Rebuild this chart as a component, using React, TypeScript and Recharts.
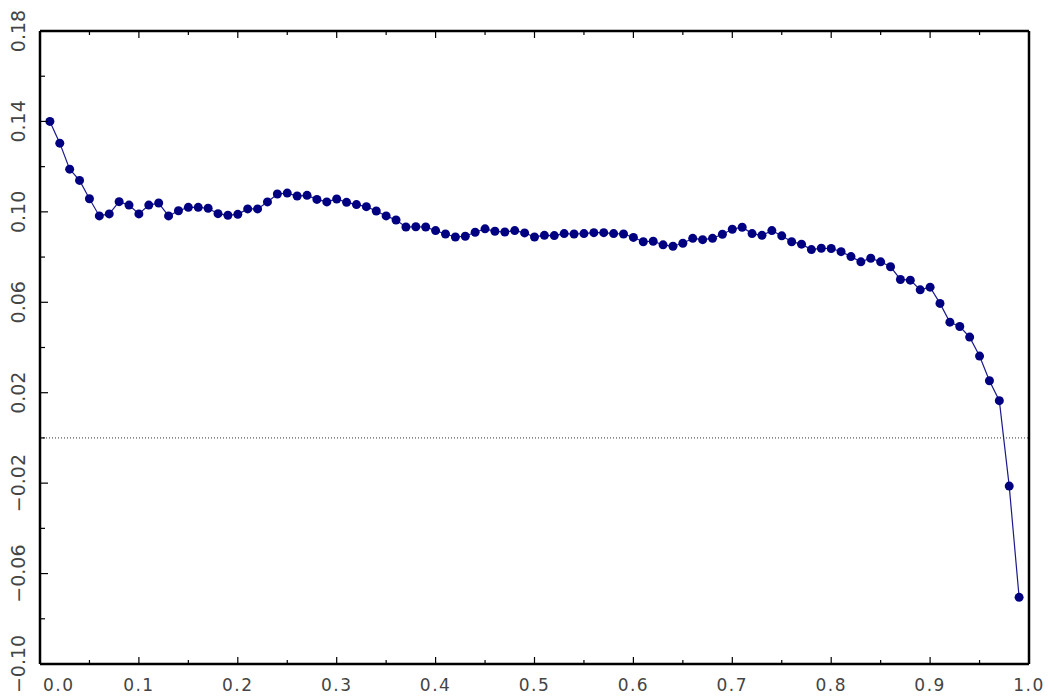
import { LineChart, Line, XAxis, YAxis, ReferenceLine } from 'recharts';

// x positions of the samples
const xs = [
  0.01, 0.02, 0.03, 0.04, 0.05, 0.06, 0.07, 0.08, 0.09, 0.1,
  0.11, 0.12, 0.13, 0.14, 0.15, 0.16, 0.17, 0.18, 0.19, 0.2,
  0.21, 0.22, 0.23, 0.24, 0.25, 0.26, 0.27, 0.28, 0.29, 0.3,
  0.31, 0.32, 0.33, 0.34, 0.35, 0.36, 0.37, 0.38, 0.39, 0.4,
  0.41, 0.42, 0.43, 0.44, 0.45, 0.46, 0.47, 0.48, 0.49, 0.5,
  0.51, 0.52, 0.53, 0.54, 0.55, 0.56, 0.57, 0.58, 0.59, 0.6,
  0.61, 0.62, 0.63, 0.64, 0.65, 0.66, 0.67, 0.68, 0.69, 0.7,
  0.71, 0.72, 0.73, 0.74, 0.75, 0.76, 0.77, 0.78, 0.79, 0.8,
  0.81, 0.82, 0.83, 0.84, 0.85, 0.86, 0.87, 0.88, 0.89, 0.9,
  0.91, 0.92, 0.93, 0.94, 0.95, 0.96, 0.97, 0.98, 0.99,
];

// values
const ys = [
  0.140, 0.1304, 0.1189, 0.1139, 0.1058, 0.0982, 0.0991, 0.1045, 0.1030, 0.0991,
  0.1030, 0.1039, 0.0982, 0.1005, 0.1020, 0.1020, 0.1016, 0.0992, 0.0985, 0.0989,
  0.1013, 0.1013, 0.1044, 0.1079, 0.1083, 0.1070, 0.1073, 0.1055, 0.1044, 0.1057,
  0.1042, 0.1032, 0.1023, 0.1004, 0.0982, 0.0964, 0.0933, 0.0934, 0.0933, 0.0917,
  0.0902, 0.0889, 0.0892, 0.0910, 0.0925, 0.0914, 0.0911, 0.0917, 0.0907, 0.0889,
  0.0896, 0.0895, 0.0904, 0.0902, 0.0904, 0.0908, 0.0908, 0.0904, 0.0902, 0.0887,
  0.0868, 0.0870, 0.0854, 0.0848, 0.0861, 0.0883, 0.0877, 0.0883, 0.0901, 0.0923,
  0.0932, 0.0904, 0.0896, 0.0917, 0.0894, 0.0868, 0.0857, 0.0833, 0.0839, 0.0838,
  0.0824, 0.0802, 0.0779, 0.0795, 0.0779, 0.0757, 0.0701, 0.0698, 0.0655, 0.0667,
  0.0595, 0.0512, 0.0493, 0.0446, 0.0362, 0.0253, 0.0165, -0.0213, -0.0705,
];

const xTicks = [
  0, 0.05, 0.1, 0.15, 0.2, 0.25, 0.3, 0.35, 0.4, 0.45, 0.5,
  0.55, 0.6, 0.65, 0.7, 0.75, 0.8, 0.85, 0.9, 0.95, 1.0,
];
const yTicks = [
  -0.1, -0.08, -0.06, -0.04, -0.02, 0, 0.02, 0.04, 0.06, 0.08,
  0.1, 0.12, 0.14, 0.16, 0.18,
];

const data = xs.map((x, i) => ({ x, y: ys[i] }));

const FONT = 'DejaVu Sans';
const TEXT = '#444';

const isMajorX = (v: number) => Math.round(v * 100) % 10 === 0;
const isMajorY = (v: number) => Math.round((v + 0.1) * 100) % 4 === 0;

const fmtY = (v: number) => {
  const s = Math.abs(v).toFixed(2);
  return v < -1e-9 ? '\u2212' + s : s;
};

function BottomTick(props: any) {
  const { x, y, payload } = props;
  const v = payload.value;
  const major = isMajorX(v);
  const first = Math.abs(v) < 1e-9;
  return (
    <g>
      <line x1={x} y1={y} x2={x} y2={y - (major ? 7 : 4)} stroke="#000" strokeWidth={1.2} />
      {major && (
        <text
          x={first ? x + 3 : x}
          y={y + 21}
          textAnchor={first ? 'start' : 'middle'}
          dominantBaseline="central"
          fontFamily={FONT}
          fontSize={17}
          fill={TEXT}
          letterSpacing={1.5}
        >
          {v.toFixed(1)}
        </text>
      )}
    </g>
  );
}

function TopTick(props: any) {
  const { x, y, payload } = props;
  const major = isMajorX(payload.value);
  return <line x1={x} y1={y} x2={x} y2={y + (major ? 7 : 4)} stroke="#000" strokeWidth={1.2} />;
}

function LeftTick(props: any) {
  const { x, y, payload } = props;
  const v = payload.value;
  const major = isMajorY(v);
  return (
    <g>
      <line x1={x} y1={y} x2={x + (major ? 8 : 5)} y2={y} stroke="#000" strokeWidth={1.2} />
      {major && (
        <text
          x={x - 22}
          y={y}
          transform={`rotate(-90 ${x - 22} ${y})`}
          textAnchor="middle"
          dominantBaseline="central"
          fontFamily={FONT}
          fontSize={19}
          fill={TEXT}
        >
          {fmtY(v)}
        </text>
      )}
    </g>
  );
}

function RightTick(props: any) {
  const { x, y, payload } = props;
  const major = isMajorY(payload.value);
  return <line x1={x} y1={y} x2={x - (major ? 8 : 5)} y2={y} stroke="#000" strokeWidth={1.2} />;
}

export default function App() {
  return (
    <LineChart width={1046} height={689} data={data} margin={{ top: 0, right: 0, left: 0, bottom: 0 }}>
      <XAxis
        xAxisId="b"
        dataKey="x"
        type="number"
        domain={[0, 1]}
        ticks={xTicks}
        interval={0}
        height={33}
        tickLine={false}
        tickSize={0}
        tickMargin={0}
        axisLine={{ stroke: '#000', strokeWidth: 2.5 }}
        tick={<BottomTick />}
      />
      <XAxis
        xAxisId="t"
        orientation="top"
        dataKey="x"
        type="number"
        domain={[0, 1]}
        ticks={xTicks}
        interval={0}
        height={23}
        tickLine={false}
        tickSize={0}
        tickMargin={0}
        axisLine={{ stroke: '#000', strokeWidth: 2.5 }}
        tick={<TopTick />}
      />
      <YAxis
        yAxisId="l"
        type="number"
        domain={[-0.1, 0.18]}
        ticks={yTicks}
        interval={0}
        width={32}
        tickLine={false}
        tickSize={0}
        tickMargin={0}
        axisLine={{ stroke: '#000', strokeWidth: 2.5 }}
        tick={<LeftTick />}
      />
      <YAxis
        yAxisId="r"
        orientation="right"
        type="number"
        domain={[-0.1, 0.18]}
        ticks={yTicks}
        interval={0}
        width={25}
        tickLine={false}
        tickSize={0}
        tickMargin={0}
        axisLine={{ stroke: '#000', strokeWidth: 2.5 }}
        tick={<RightTick />}
      />
      <ReferenceLine xAxisId="b" yAxisId="l" y={0} stroke="#333" strokeDasharray="1 2" strokeWidth={1} />
      <Line
        xAxisId="b"
        yAxisId="l"
        type="linear"
        dataKey="y"
        stroke="#1a1a8c"
        strokeWidth={1.2}
        dot={{ r: 4.5, fill: '#000080', stroke: 'none' }}
        activeDot={false}
        isAnimationActive={false}
      />
    </LineChart>
  );
}
